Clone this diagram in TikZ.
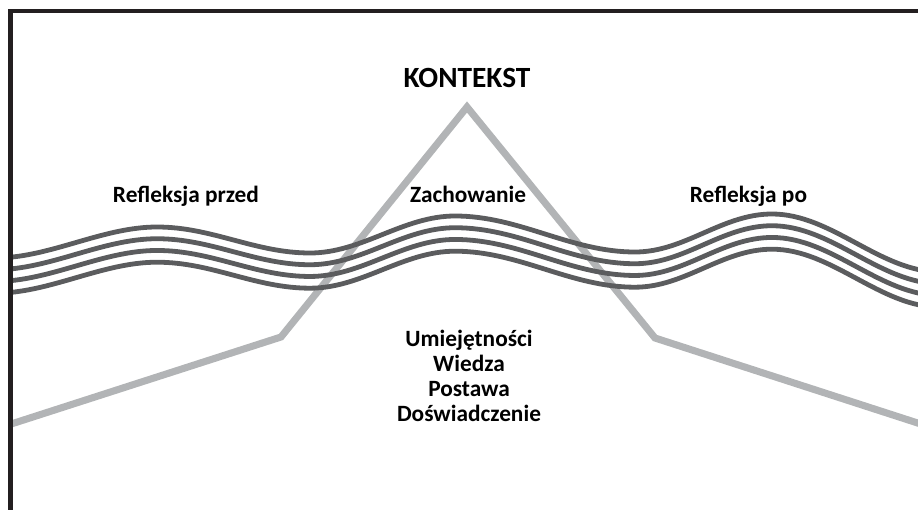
\documentclass[tikz,border=0pt]{standalone}
\usepackage{fontspec}
\setmainfont{Carlito}
\definecolor{framec}{HTML}{231F20}
\definecolor{trig}{HTML}{B2B4B6}
\definecolor{wavec}{HTML}{5B5C5E}
\tikzset{
  framepath/.style={draw=framec, line width=3.5pt, line join=miter},
  trigpath/.style={draw=trig, line width=5.3pt, line join=miter},
  wavepath/.style={draw=wavec, line width=3.6pt},
  lbl/.style={font=\fontsize{17.5}{20}\selectfont\bfseries, text=black, inner sep=0pt, anchor=base},
  bigl/.style={font=\fontsize{22}{24}\selectfont\bfseries, text=black, inner sep=0pt}
}
\newcommand{\wavecurve}[1]{%
  \draw[wavepath, yshift=#1] (-5,258) .. controls (50,258) and (102,227) .. (157,227)
    .. controls (212,227) and (255,253) .. (310,253)
    .. controls (362,253) and (403,216) .. (455,216)
    .. controls (520,216) and (570,252) .. (635,252)
    .. controls (685,252) and (722,214) .. (772,214)
    .. controls (832,214) and (880,272) .. (940,272);}
\begin{document}
\begin{tikzpicture}[x=0.75pt,y=-0.75pt]
\useasboundingbox (0,0) rectangle (918,510);
\begin{scope}
\clip (10.5,0) rectangle (918,510);
% triangle-like polyline
\coordinate (tl) at (5,426);
\coordinate (tk1) at (281,337);
\coordinate (tapex) at (467,107);
\coordinate (tk2) at (655,338);
\coordinate (tr) at (930,427);
\draw[trigpath] (tl) -- (tk1) -- (tapex) -- (tk2) -- (tr);
% waves
\wavecurve{0pt}
\wavecurve{-8.8pt}
\wavecurve{-17.6pt}
\wavecurve{-26.4pt}
\end{scope}
% frame
\begin{scope}
\clip (0,0) rectangle (918,510);
\coordinate (fb) at (10.5,515);
\coordinate (fc) at (10.5,11);
\coordinate (fr) at (925,11);
\draw[framepath] (fb) -- (fc) -- (fr);
\end{scope}
% labels
\node[bigl] (kontekst) at (467,77.5) {KONTEKST};
\node[lbl] (rprzed) at (186,202) {Refleksja przed};
\node[lbl] (zach) at (468,202) {Zachowanie};
\node[lbl] (rpo) at (748.5,202) {Refleksja po};
\node[lbl] (umi) at (469,346) {Umiejętności};
\node[lbl] (wie) at (469,371) {Wiedza};
\node[lbl] (pos) at (469,396) {Postawa};
\node[lbl] (dos) at (469,421) {Doświadczenie};
\end{tikzpicture}
\end{document}
